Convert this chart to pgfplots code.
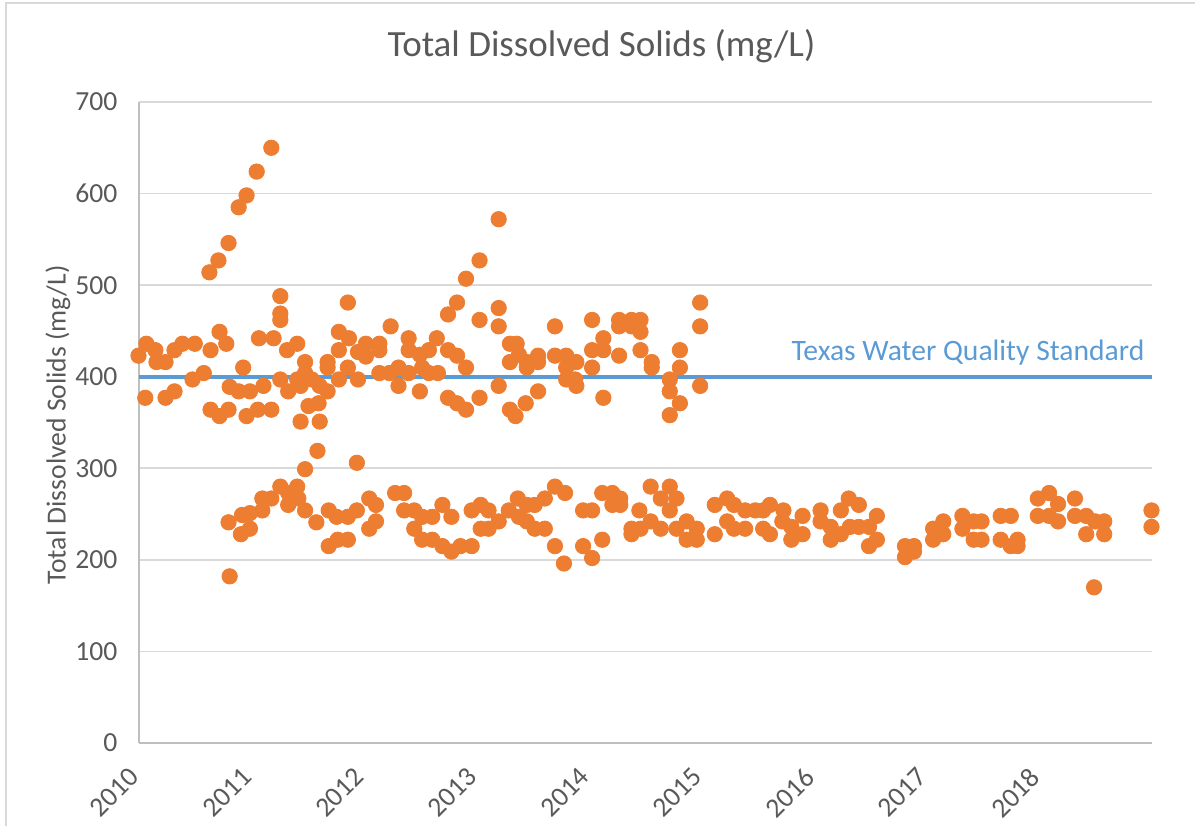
\documentclass[border=0pt]{standalone}
\usepackage{pgfplots}
\pgfplotsset{compat=1.18}
\usepackage{pgfplotstable}
\usepackage{fontspec}
\setmainfont{Carlito}
\definecolor{tdsorange}{HTML}{ED7D31}
\definecolor{stdblue}{HTML}{5B9BD5}
\definecolor{txtgray}{HTML}{595959}
\definecolor{gridgray}{HTML}{D9D9D9}
\definecolor{axisgray}{HTML}{BFBFBF}

% x = years since 2010, y = TDS (mg/L)
\pgfplotstableread{
x y
0.00 423
0.06 377
0.07 436
0.15 429
0.16 416
0.24 416
0.24 377
0.32 384
0.32 429
0.39 436
0.48 397
0.50 436
0.58 404
0.63 514
0.64 429
0.64 364
0.71 527
0.72 449
0.72 357
0.78 436
0.80 546
0.80 364
0.80 241
0.81 182
0.81 389
0.89 585
0.89 384
0.91 228
0.92 249
0.93 410
0.96 598
0.96 357
0.99 384
0.99 234
0.99 251
1.05 624
1.06 364
1.07 442
1.10 254
1.10 267
1.11 390
1.18 650
1.18 364
1.18 267
1.20 442
1.26 488
1.26 469
1.26 462
1.26 397
1.26 280
1.32 429
1.33 384
1.33 260
1.33 273
1.41 436
1.41 397
1.41 280
1.42 267
1.44 390
1.44 351
1.48 416
1.48 404
1.48 299
1.48 254
1.51 368
1.54 397
1.58 241
1.59 319
1.60 371
1.61 351
1.61 390
1.68 384
1.68 416
1.68 410
1.69 254
1.69 215
1.76 247
1.77 222
1.78 449
1.78 397
1.78 429
1.86 481
1.87 442
1.86 410
1.86 247
1.86 222
1.94 306
1.94 254
1.95 397
1.95 427
2.02 436
2.02 422
2.05 267
2.05 234
2.11 260
2.11 242
2.14 436
2.14 429
2.14 404
2.23 404
2.24 455
2.28 273
2.31 410
2.31 390
2.36 273
2.36 254
2.40 442
2.40 429
2.40 404
2.45 254
2.45 234
2.50 384
2.50 424
2.52 410
2.52 247
2.52 222
2.58 429
2.58 404
2.61 247
2.61 222
2.65 442
2.66 404
2.70 260
2.70 215
2.75 468
2.75 429
2.75 377
2.78 247
2.78 209
2.83 481
2.83 423
2.83 371
2.86 215
2.91 507
2.91 410
2.91 364
2.96 254
2.96 215
3.03 527
3.03 462
3.03 377
3.04 260
3.04 234
3.11 254
3.11 234
3.20 572
3.20 475
3.20 455
3.20 390
3.20 242
3.29 254
3.30 436
3.30 416
3.30 364
3.35 357
3.36 436
3.37 267
3.38 424
3.38 247
3.45 416
3.45 410
3.44 371
3.45 260
3.45 242
3.52 260
3.52 234
3.55 423
3.55 416
3.55 384
3.61 267
3.61 234
3.70 455
3.70 423
3.70 280
3.70 215
3.78 196
3.79 273
3.80 423
3.80 410
3.80 397
3.89 416
3.89 390
3.88 397
3.95 254
3.95 215
4.03 462
4.03 429
4.03 410
4.03 254
4.03 202
4.12 273
4.12 222
4.13 442
4.13 429
4.13 377
4.21 273
4.21 260
4.27 462
4.27 455
4.27 423
4.28 267
4.28 260
4.38 462
4.38 455
4.38 234
4.38 228
4.45 254
4.46 234
4.46 462
4.46 449
4.46 429
4.55 280
4.55 242
4.56 416
4.56 410
4.64 267
4.64 234
4.72 397
4.72 384
4.72 358
4.72 280
4.72 254
4.78 267
4.78 234
4.81 429
4.81 410
4.81 371
4.87 242
4.87 222
4.96 234
4.96 222
4.99 481
4.99 455
4.99 390
5.12 260
5.12 228
5.23 267
5.23 242
5.29 260
5.29 234
5.39 254
5.39 234
5.48 254
5.55 254
5.55 234
5.61 260
5.61 228
5.73 254
5.72 242
5.80 236
5.80 222
5.90 248
5.90 228
6.06 254
6.06 242
6.15 236
6.15 222
6.24 254
6.24 228
6.31 267
6.32 236
6.40 260
6.40 236
6.49 236
6.49 215
6.56 248
6.56 222
6.81 215
6.81 203
6.89 215
6.89 209
7.06 234
7.06 222
7.15 242
7.15 228
7.32 248
7.32 234
7.42 242
7.42 222
7.49 242
7.49 222
7.66 248
7.66 222
7.75 248
7.75 215
7.81 222
7.81 215
7.99 267
7.99 248
8.09 273
8.09 248
8.17 261
8.17 242
8.32 267
8.32 248
8.42 248
8.42 228
8.49 170
8.50 242
8.58 242
8.58 228
9.00 254
9.00 236
}\tdsdata

\begin{document}
\begin{tikzpicture}[x=1pt,y=1pt]
\path[use as bounding box] (0,0) rectangle (597.5,413);
\draw[gridgray, line width=0.6pt] (3,0) -- (3,411.5) -- (597.5,411.5);
\node[txtgray, font=\fontsize{18.5}{22}\selectfont, anchor=base] at (300.75,384.6) {Total Dissolved Solids (mg/L)};
\node[txtgray, font=\fontsize{13.8}{16}\selectfont, rotate=90] at (29,200.5) {Total Dissolved Solids (mg/L)};
\begin{axis}[
  at={(69.25pt,41.5pt)}, anchor=south west,
  scale only axis, width=506.5pt, height=320.5pt,
  xmin=0, xmax=9, ymin=0, ymax=700,
  xtick={0,1,2,3,4,5,6,7,8},
  xticklabels={2010,2011,2012,2013,2014,2015,2016,2017,2018},
  ytick={0,100,...,700},
  major tick length=0pt,
  axis x line*=bottom, axis y line*=left,
  axis line style={axisgray, line width=1pt, -},
  ymajorgrids, grid style={gridgray, line width=0.8pt},
  tick label style={txtgray, font=\fontsize{13.8}{16}\selectfont},
  /pgf/number format/assume math mode=true,
  yticklabel style={xshift=-7pt},
  xticklabel style={rotate=45, anchor=north east, xshift=-8.5pt, yshift=-1pt},
  clip=false,
]
\addplot[stdblue, line width=1.8pt] coordinates {(0,400) (9,400)};
\addplot[only marks, mark=*, mark size=3.85pt, tdsorange, mark options={fill=tdsorange, draw=tdsorange}] table[x=x, y=y] {\tdsdata};
\node[stdblue, font=\fontsize{14.8}{17}\selectfont, anchor=base east, inner sep=0pt] at (axis cs:8.94,418) {Texas Water Quality Standard};
\end{axis}
\end{tikzpicture}
\end{document}
